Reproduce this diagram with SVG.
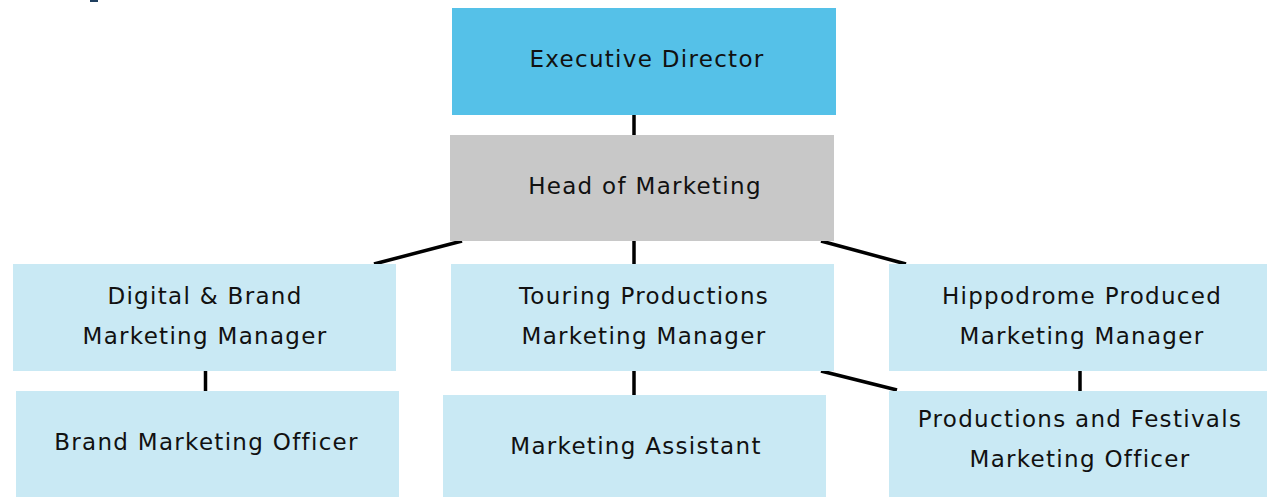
<svg xmlns="http://www.w3.org/2000/svg" width="1267" height="497" viewBox="0 0 1267 497">
  <style>
    .box { fill: #c9e9f4; }
    .exec { fill: #55c1e8; }
    .head { fill: #c8c8c8; }
    .lbl { font-family: "DejaVu Sans", "Liberation Sans", sans-serif; font-size: 23px; letter-spacing: 1.3px; fill: #111111; text-anchor: middle; }
    .link { stroke: #000000; stroke-width: 3.5; fill: none; }
  </style>
  <rect width="1267" height="497" fill="#ffffff"/>
  <!-- clipped corner of heading mark -->
  <rect x="90" y="0" width="8" height="2" fill="#1f3f5f"/>

  <g id="connectors">
    <line class="link" x1="634" y1="115" x2="634" y2="135"/>
    <line class="link" x1="634" y1="241" x2="634" y2="264"/>
    <line class="link" x1="462" y1="241" x2="374" y2="264"/>
    <line class="link" x1="821" y1="241" x2="906" y2="264"/>
    <line class="link" x1="205.5" y1="371" x2="205.5" y2="391"/>
    <line class="link" x1="634" y1="371" x2="634" y2="395"/>
    <line class="link" x1="1080" y1="371" x2="1080" y2="391"/>
    <line class="link" x1="821" y1="371" x2="897" y2="390"/>
  </g>

  <g id="executive-director">
    <rect class="exec" x="452" y="8" width="384" height="107"/>
    <text class="lbl" x="647" y="67">Executive Director</text>
  </g>

  <g id="head-of-marketing">
    <rect class="head" x="450" y="135" width="384" height="106"/>
    <text class="lbl" x="645" y="194">Head of Marketing</text>
  </g>

  <g id="digital-brand-manager">
    <rect class="box" x="13" y="264" width="383" height="107"/>
    <text class="lbl" x="205" y="304">Digital &amp; Brand</text>
    <text class="lbl" x="205" y="344">Marketing Manager</text>
  </g>

  <g id="touring-manager">
    <rect class="box" x="451" y="264" width="383" height="107"/>
    <text class="lbl" x="644" y="304">Touring Productions</text>
    <text class="lbl" x="644" y="344">Marketing Manager</text>
  </g>

  <g id="hippodrome-manager">
    <rect class="box" x="889" y="264" width="378" height="107"/>
    <text class="lbl" x="1082" y="304">Hippodrome Produced</text>
    <text class="lbl" x="1082" y="344">Marketing Manager</text>
  </g>

  <g id="brand-officer">
    <rect class="box" x="16" y="391" width="383" height="106"/>
    <text class="lbl" x="206.5" y="450">Brand Marketing Officer</text>
  </g>

  <g id="marketing-assistant">
    <rect class="box" x="443" y="395" width="383" height="102"/>
    <text class="lbl" x="636" y="454">Marketing Assistant</text>
  </g>

  <g id="productions-festivals-officer">
    <rect class="box" x="889" y="391" width="378" height="106"/>
    <text class="lbl" x="1080" y="427">Productions and Festivals</text>
    <text class="lbl" x="1080" y="467">Marketing Officer</text>
  </g>
</svg>
